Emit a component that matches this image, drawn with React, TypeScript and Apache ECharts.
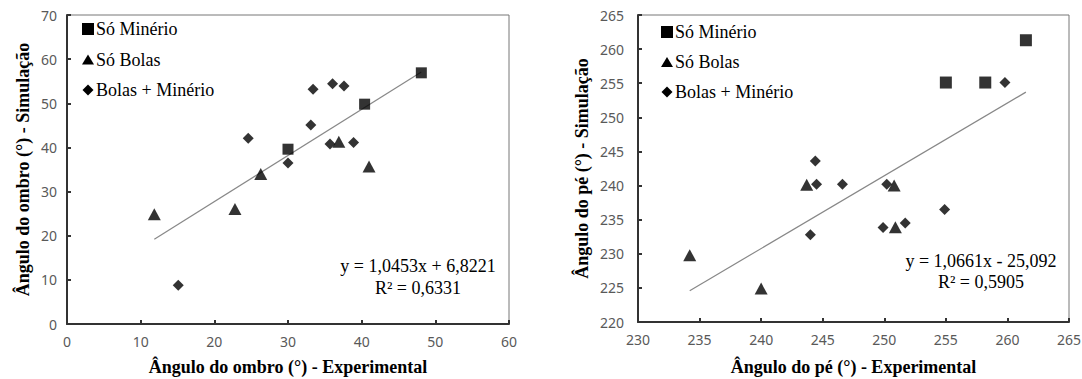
import React, { useEffect, useRef } from "react";
import * as echarts from "echarts";

// ---------- Data: left chart (shoulder angle) ----------
const ombroMinerio: [number, number][] = [[30.0, 39.6], [40.4, 49.8], [48.1, 56.9]];
const ombroBolas: [number, number][] = [[11.85, 24.85], [22.8, 26.05], [26.3, 34.0], [36.9, 41.3], [41.0, 35.7]];
const ombroBolasMinerio: [number, number][] = [
  [15.1, 8.8], [24.6, 42.1], [30.0, 36.5], [33.1, 45.1], [33.4, 53.2],
  [35.7, 40.8], [36.05, 54.4], [37.6, 53.9], [38.9, 41.1],
];
const ombroFit = { slope: 1.0453, intercept: 6.8221, r2: "0,6331", label: "y = 1,0453x + 6,8221" };

// ---------- Data: right chart (foot angle) ----------
const peMinerio: [number, number][] = [[255.0, 255.1], [258.2, 255.1], [261.5, 261.3]];
const peBolas: [number, number][] = [[234.2, 229.8], [240.0, 224.9], [243.7, 240.1], [250.8, 240.0], [250.9, 233.9]];
const peBolasMinerio: [number, number][] = [
  [244.0, 232.8], [244.4, 243.6], [244.5, 240.2], [246.6, 240.2], [249.9, 233.85],
  [250.2, 240.2], [251.7, 234.5], [254.9, 236.5], [259.8, 255.1],
];
const peFit = { slope: 1.0661, intercept: -25.092, r2: "0,5905", label: "y = 1,0661x - 25,092" };

const seriesNames = ["Só Minério", "Só Bolas", "Bolas + Minério"];
const axisTitles = {
  leftX: "Ângulo do ombro (°) - Experimental",
  leftY: "Ângulo do ombro (°) - Simulação",
  rightX: "Ângulo do pé (°) - Experimental",
  rightY: "Ângulo do pé (°) - Simulação",
};

function fitLine(groups: [number, number][][], fit: { slope: number; intercept: number }): [number, number][] {
  const xs = groups.flat().map((p) => p[0]);
  const x0 = Math.min(...xs);
  const x1 = Math.max(...xs);
  return [
    [x0, fit.slope * x0 + fit.intercept],
    [x1, fit.slope * x1 + fit.intercept],
  ];
}

const SERIF = "Liberation Serif";
const SANS = "Noto Sans";

// legend drawn as graphic group (icons + serif labels)
function legendGroup(x: number, y: number, rowGap: number) {
  const children: any[] = [];
  const iconStyle = { fill: "#000" };
  children.push({ type: "rect", shape: { x: 0, y: -6, width: 12, height: 12 }, style: iconStyle });
  children.push({ type: "polygon", shape: { points: [[6, rowGap - 5], [12, rowGap + 5], [0, rowGap + 5]] }, style: iconStyle });
  children.push({
    type: "polygon",
    shape: { points: [[6, 2 * rowGap - 5.5], [11.5, 2 * rowGap], [6, 2 * rowGap + 5.5], [0.5, 2 * rowGap]] },
    style: iconStyle,
  });
  seriesNames.forEach((name, i) => {
    children.push({
      type: "text",
      x: 14,
      y: i * rowGap,
      style: { text: name, fontFamily: SERIF, fontSize: 18, fill: "#000", align: "left", verticalAlign: "middle" },
    });
  });
  return { type: "group", x, y, children };
}

export default function App() {
  const ref = useRef<HTMLDivElement>(null);

  useEffect(() => {
    document.body.style.margin = "0";
    if (!ref.current) return;
    const chart = echarts.init(ref.current, undefined, { renderer: "svg" });

    const axisLabel = { color: "#595959", fontSize: 14, fontFamily: SANS, margin: 10 };
    const axisLine = { show: true, onZero: false, lineStyle: { color: "#333", width: 2 } };
    const axisTick = { show: true, inside: true, length: 4, lineStyle: { color: "#333", width: 2 } };
    const nameStyle = { fontFamily: SERIF, fontWeight: "bold" as const, fontSize: 18, color: "#000" };

    const scatterCommon = (name: string, symbol: string, size: any, data: any, idx: number) => ({
      type: "scatter",
      name,
      symbol,
      symbolSize: size,
      xAxisIndex: idx,
      yAxisIndex: idx,
      data,
      itemStyle: { color: "#000" },
      z: 3,
    });

    const eqText = (x: number, y: number, text: string) => ({
      type: "text", x, y,
      style: { text, fontFamily: SERIF, fontSize: 18, fill: "#000", align: "center", verticalAlign: "middle" },
    });

    const option: any = {
      animation: false,
      backgroundColor: "#fff",
      textStyle: { fontFamily: SERIF },
      grid: [
        { left: 67, top: 15, width: 442, height: 309, show: true, borderColor: "#777", borderWidth: 1, outerBoundsMode: "none", containLabel: false },
        { left: 638, top: 15, width: 431, height: 307, show: true, borderColor: "#777", borderWidth: 1, outerBoundsMode: "none", containLabel: false },
      ],
      xAxis: [
        {
          gridIndex: 0, type: "value", min: 0, max: 60, interval: 10,
          axisLine, axisTick, axisLabel, splitLine: { show: false },
          name: axisTitles.leftX, nameLocation: "middle", nameGap: 34, nameTextStyle: nameStyle,
        },
        {
          gridIndex: 1, type: "value", min: 230, max: 265, interval: 5,
          axisLine, axisTick, axisLabel, splitLine: { show: false },
          name: axisTitles.rightX, nameLocation: "middle", nameGap: 36, nameTextStyle: nameStyle,
        },
      ],
      yAxis: [
        {
          gridIndex: 0, type: "value", min: 0, max: 70, interval: 10,
          axisLine, axisTick, axisLabel, splitLine: { show: false },
          name: axisTitles.leftY, nameLocation: "middle", nameGap: 35, nameTextStyle: nameStyle,
        },
        {
          gridIndex: 1, type: "value", min: 220, max: 265, interval: 5,
          axisLine, axisTick, axisLabel: { ...axisLabel, margin: 14 }, splitLine: { show: false },
          name: axisTitles.rightY, nameLocation: "middle", nameGap: 47, nameTextStyle: nameStyle,
        },
      ],
      series: [
        {
          type: "line", xAxisIndex: 0, yAxisIndex: 0, symbol: "none", silent: true,
          data: fitLine([ombroMinerio, ombroBolas, ombroBolasMinerio], ombroFit),
          lineStyle: { color: "#888", width: 1.2 }, z: 2,
        },
        {
          type: "line", xAxisIndex: 1, yAxisIndex: 1, symbol: "none", silent: true,
          data: fitLine([peMinerio, peBolas, peBolasMinerio], peFit),
          lineStyle: { color: "#888", width: 1.2 }, z: 2,
        },
        scatterCommon(seriesNames[0], "rect", 11, ombroMinerio, 0),
        scatterCommon(seriesNames[1], "triangle", [13, 12], ombroBolas, 0),
        scatterCommon(seriesNames[2], "diamond", [11, 11], ombroBolasMinerio, 0),
        scatterCommon(seriesNames[0], "rect", 12, peMinerio, 1),
        scatterCommon(seriesNames[1], "triangle", [13, 12], peBolas, 1),
        scatterCommon(seriesNames[2], "diamond", [11, 11], peBolasMinerio, 1),
      ],
      graphic: [
        legendGroup(82, 29, 30.5),
        legendGroup(661, 32, 30),
        eqText(418, 266, ombroFit.label),
        eqText(418, 288, `R² = ${ombroFit.r2}`),
        eqText(981, 261, peFit.label),
        eqText(981, 282, `R² = ${peFit.r2}`),
      ],
    };

    chart.setOption(option);
    return () => chart.dispose();
  }, []);

  return (
    <div
      ref={ref}
      style={{ position: "fixed", left: 0, top: 0, width: 1082, height: 379, background: "#fff" }}
    />
  );
}
